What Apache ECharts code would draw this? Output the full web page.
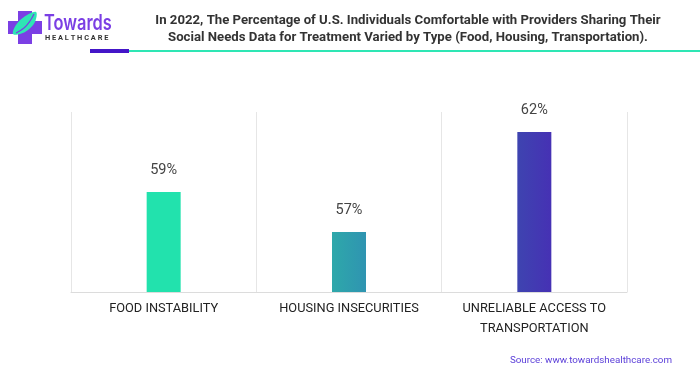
<!DOCTYPE html>
<html>
<head>
<meta charset="utf-8">
<script src="https://cdn.jsdelivr.net/npm/echarts@6/dist/echarts.min.js"></script>
<style>
  html, body { margin: 0; padding: 0; background: #fff; }
  #chart { width: 700px; height: 375px; }
</style>
</head>
<body>
<div id="chart"></div>
<script>
// 数据
var categories = ['FOOD INSTABILITY', 'HOUSING INSECURITIES', 'UNRELIABLE ACCESS TO\nTRANSPORTATION'];
var values = [59, 57, 62];
var barColors = [
    ['#22e2ad', '#22e2ad'],
    ['#2ea8aa', '#2f94b1'],
    ['#3e44b0', '#4631b4']
];

var myChart = echarts.init(document.getElementById('chart'));

var seriesData = values.map(function (v, i) {
    return {
        value: v,
        itemStyle: {
            color: new echarts.graphic.LinearGradient(0, 0, 1, 0, [
                {offset: 0, color: barColors[i][0]},
                {offset: 1, color: barColors[i][1]}
            ])
        }
    };
});

var option = {
    backgroundColor: '#fff',
    animation: false,
    graphic: [
        // logo 十字
        {type: 'rect', shape: {x: 18, y: 11, width: 14, height: 33}, style: {fill: '#7b3fe4'}},
        {type: 'rect', shape: {x: 8, y: 21, width: 34, height: 13}, style: {fill: '#7b3fe4'}},
        // 叶子
        {type: 'polygon', shape: {points: [[13, 34], [16, 25], [24, 17], [36, 12], [35, 22], [28, 30], [20, 34]], smooth: 0.35}, style: {fill: '#2ee6b4'}},
        {type: 'polyline', shape: {points: [[16, 33], [24, 28], [30, 21], [34, 14]], smooth: 0.4}, style: {stroke: '#7b3fe4', lineWidth: 1.2, fill: null}},
        {type: 'text', x: 44, y: 13, scaleX: 0.78, style: {text: 'Towards', fill: '#7b3fe4', font: '600 21px Inter, Roboto, sans-serif'}},
        {type: 'text', left: 45, top: 35, style: {text: 'H E A L T H C A R E', fill: '#333', font: 'bold 7.4px Roboto, sans-serif'}},
        // 标题
        {type: 'text', x: 408, y: 12, style: {
            text: 'In 2022, The Percentage of U.S. Individuals Comfortable with Providers Sharing Their\nSocial Needs Data for Treatment Varied by Type (Food, Housing, Transportation).',
            fill: '#333', font: 'bold 13.2px Roboto, sans-serif', align: 'center', lineHeight: 17
        }},
        // 标题下划线
        {type: 'rect', shape: {x: 129, y: 50, width: 571, height: 2}, style: {fill: '#2ee6b4'}},
        {type: 'rect', shape: {x: 90, y: 49, width: 39, height: 4}, style: {fill: '#4416c8'}},
        // 来源
        {type: 'text', right: 28, top: 356, style: {text: 'Source: www.towardshealthcare.com', fill: '#5b3fd9', font: '9.8px Roboto, sans-serif'}}
    ],
    grid: {
        left: 71,
        right: 73,
        top: 112,
        bottom: 83
    },
    xAxis: {
        type: 'category',
        data: categories,
        axisLine: {lineStyle: {color: '#dcdcdc'}},
        axisTick: {show: false},
        splitLine: {show: true, lineStyle: {color: '#e6e6e6'}},
        axisLabel: {
            color: '#222',
            fontSize: 12.8,
            fontFamily: 'Roboto, sans-serif',
            margin: 7,
            lineHeight: 20,
            interval: 0
        }
    },
    yAxis: {
        type: 'value',
        min: 54,
        max: 63,
        show: false,
        splitLine: {show: false}
    },
    series: [
        {
            type: 'bar',
            data: seriesData,
            barWidth: 34,
            label: {
                show: true,
                position: 'top',
                distance: 14,
                formatter: '{c}%',
                color: '#444',
                fontSize: 14.5,
                fontFamily: 'Roboto, sans-serif'
            }
        }
    ]
};

myChart.setOption(option);
</script>
</body>
</html>
